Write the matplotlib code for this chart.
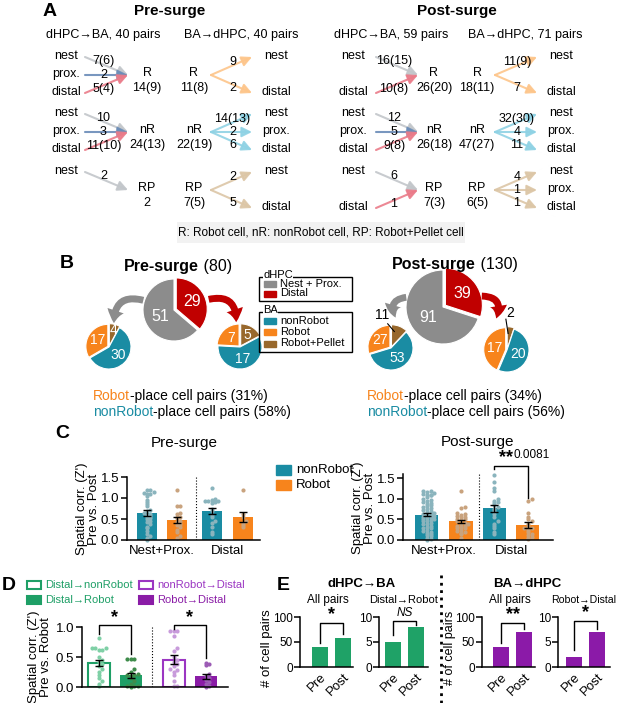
import numpy as np
import matplotlib
matplotlib.use('Agg')
import matplotlib.pyplot as plt
from matplotlib.patches import Rectangle, FancyArrowPatch

plt.rcParams['font.family'] = ['Liberation Sans', 'DejaVu Sans']
plt.rcParams['font.size'] = 9
plt.rcParams['axes.linewidth'] = 1.1

# ======================= DATA =======================
# Panel A : pair counts
pre_in = [(['nest', 'prox.', 'distal'], ['7(6)', '2', '5(4)'], 'R', '14(9)'),
          (['nest', 'prox.', 'distal'], ['10', '3', '11(10)'], 'nR', '24(13)'),
          (['nest'], ['2'], 'RP', '2')]
pre_out = [('R', '11(8)', ['nest', 'distal'], ['9', '2']),
           ('nR', '22(19)', ['nest', 'prox.', 'distal'], ['14(13)', '2', '6']),
           ('RP', '7(5)', ['nest', 'distal'], ['2', '5'])]
post_in = [(['nest', 'distal'], ['16(15)', '10(8)'], 'R', '26(20)'),
           (['nest', 'prox.', 'distal'], ['12', '5', '9(8)'], 'nR', '26(18)'),
           (['nest', 'distal'], ['6', '1'], 'RP', '7(3)')]
post_out = [('R', '18(11)', ['nest', 'distal'], ['11(9)', '7']),
            ('nR', '47(27)', ['nest', 'prox.', 'distal'], ['32(30)', '4', '11']),
            ('RP', '6(5)', ['nest', 'prox.', 'distal'], ['4', '1', '1'])]
pre_pairs = ['dHPC→BA, 40 pairs', 'BA→dHPC, 40 pairs']
post_pairs = ['dHPC→BA, 59 pairs', 'BA→dHPC, 71 pairs']
note_text = 'R: Robot cell, nR: nonRobot cell, RP: Robot+Pellet cell'

# Panel B : pie counts
pre_total, post_total = 80, 130
pre_dhpc = [29, 51]            # Distal, Nest+Prox.
post_dhpc = [39, 91]
pre_np_ba = [4, 30, 17]        # Robot+Pellet, nonRobot, Robot
pre_distal_ba = [5, 17, 7]
post_np_ba = [11, 53, 27]
post_distal_ba = [2, 20, 17]
pre_pct = [31, 58]             # Robot-place, nonRobot-place (%)
post_pct = [34, 56]

# Panel C : spatial correlation (Z') pre vs post
c_groups = ['Nest+Prox.', 'Distal']
pre_nr_np = [1.18, 1.18, 1.15, 1.12, 1.10, 1.10, 1.05, 0.95, 0.90, 0.85, 0.80, 0.72, 0.68, 0.65, 0.62,
             0.60, 0.58, 0.55, 0.52, 0.50, 0.45, 0.42, 0.38, 0.32, 0.28, 0.22, 0.15, 0.10, 0.05, 0.0]
pre_r_np = [1.18, 0.80, 0.80, 0.65, 0.62, 0.55, 0.55, 0.52, 0.45, 0.42, 0.38, 0.35, 0.30, 0.25, 0.20, 0.10, 0.05]
pre_nr_d = [1.25, 0.98, 0.95, 0.92, 0.92, 0.92, 0.90, 0.88, 0.75, 0.70, 0.60, 0.55, 0.45, 0.40, 0.30, 0.20, 0.15]
pre_r_d = [1.20, 0.62, 0.55, 0.45, 0.40, 0.35, 0.30]
post_nr_np = [1.18, 1.18, 1.17, 1.15, 1.12, 1.10, 1.10, 1.08, 1.05, 1.00, 0.98, 0.95, 0.92, 0.90, 0.88,
              0.85, 0.82, 0.80, 0.78, 0.75, 0.72, 0.70, 0.68, 0.65, 0.63, 0.62, 0.60, 0.58, 0.56, 0.55,
              0.53, 0.52, 0.50, 0.48, 0.46, 0.45, 0.42, 0.40, 0.38, 0.35, 0.32, 0.30, 0.28, 0.25, 0.22,
              0.20, 0.18, 0.15, 0.12, 0.10, 0.06, 0.03, 0.0]
post_r_np = [1.18, 0.80, 0.78, 0.65, 0.62, 0.60, 0.58, 0.55, 0.55, 0.52, 0.50, 0.48, 0.45, 0.42,
             0.40, 0.38, 0.35, 0.35, 0.32, 0.30, 0.28, 0.25, 0.22, 0.20, 0.18, 0.15, 0.05]
post_nr_d = [1.58, 1.40, 1.25, 1.20, 1.00, 0.95, 0.92, 0.90, 0.85, 0.80, 0.75, 0.70, 0.62, 0.55,
             0.45, 0.40, 0.35, 0.30, 0.20, 0.15]
post_r_d = [1.00, 0.95, 0.65, 0.55, 0.50, 0.45, 0.40, 0.35, 0.30, 0.28, 0.25, 0.20, 0.15, 0.12, 0.08, 0.05, 0.02]
c_p_value = '0.0081'

# Panel D : spatial correlation (Z') pre vs robot
d_labels = ['Distal→nonRobot', 'Distal→Robot', 'nonRobot→Distal', 'Robot→Distal']
d_dist_nr = [0.82, 0.65, 0.65, 0.65, 0.62, 0.62, 0.50, 0.45, 0.42, 0.38, 0.35, 0.30, 0.25, 0.20, 0.15, 0.10, 0.05, 0.02]
d_dist_r = [0.47, 0.47, 0.47, 0.30, 0.25, 0.22, 0.20, 0.20, 0.18, 0.15, 0.10, 0.05, 0.02, 0.02, 0.02, 0.0]
d_nr_dist = [0.93, 0.93, 0.93, 0.85, 0.65, 0.60, 0.50, 0.45, 0.42, 0.38, 0.35, 0.30, 0.28, 0.25, 0.20, 0.10, 0.02, 0.02]
d_r_dist = [0.40, 0.38, 0.36, 0.22, 0.18, 0.15, 0.12, 0.08, 0.05, 0.02, 0.0]

# Panel E : number of cell pairs
e_cats = ['Pre', 'Post']
e_dhpc_ba_all = [40, 59]
e_distal_robot = [5, 8]
e_ba_dhpc_all = [40, 71]
e_robot_distal = [2, 7]

# ======================= STYLE =======================
TEAL = '#1a8ca3'
ORANGE = '#f7841c'
BROWN = '#98682c'
GRAY = '#8c8c8c'
RED = '#c00000'
GREEN = '#1e9f66'
PURPLE = '#8a1ca6'
TEAL_DOT = '#8ab4bd'
ORANGE_DOT = '#c9a37e'

W, H = 617, 703
fig = plt.figure(figsize=(W / 100, H / 100), dpi=100)


def add_ax(x0, y0, x1, y1):
    return fig.add_axes([x0 / W, 1 - y1 / H, (x1 - x0) / W, (y1 - y0) / H])


ov = add_ax(0, 0, W, H)
ov.set_xlim(0, W)
ov.set_ylim(H, 0)
ov.axis('off')
ov.set_zorder(10)
renderer = fig.canvas.get_renderer()


def txt(x, y, s, fs=9, **kw):
    kw.setdefault('ha', 'center')
    kw.setdefault('va', 'center')
    return ov.text(x, y, s, fontsize=fs, **kw)


def rich(x, y, parts, center=False, fs=10):
    objs, cx = [], x
    for s, kw in parts:
        t = ov.text(cx, y, s, ha='left', va='baseline', fontsize=kw.get('fs', fs),
                    color=kw.get('color', 'black'), fontweight=kw.get('weight', 'normal'))
        cx += t.get_window_extent(renderer).width
        objs.append(t)
    if center:
        tot = cx - x
        for t in objs:
            t.set_x(t.get_position()[0] - tot / 2)


# panel letters
for lab, x, y in [('A', 50, 11), ('B', 67, 263), ('C', 62, 433), ('D', 9, 585), ('E', 283, 585)]:
    txt(x, y, lab, fs=14, fontweight='bold')

# ======================= PANEL A =======================
SRC_ROW = {'nest': 0, 'prox.': 1, 'distal': 2}
SRC_COL = {'nest': '#c2c6ca', 'prox.': '#6a8cb8', 'distal': '#ea7b89'}
OUT_COL = {'R': '#fdc58a', 'nR': '#8fd2e4', 'RP': '#dcc6a6'}
ROW_Y = [56, 113, 171]
FSA = 9


def arrow(p0, p1, col):
    ov.annotate('', xy=p1, xytext=p0,
                arrowprops=dict(arrowstyle='-|>', color=col, lw=1.5, mutation_scale=15,
                                shrinkA=0, shrinkB=0, alpha=0.9))


def half(inputs, outputs, L, title, pairs):
    txt(L['title'], 11, title, fs=11, fontweight='bold')
    txt(L['sub_in'], 35, pairs[0], fs=FSA)
    txt(L['sub_out'], 35, pairs[1], fs=FSA)
    for r, (srcs, cnts, tgt, tot) in enumerate(inputs):
        y0 = ROW_Y[r]
        cy = y0 + 19
        for s, c in zip(srcs, cnts):
            sy = y0 + 18 * SRC_ROW[s]
            txt(L['src'], sy, s, fs=FSA)
            arrow((L['a0'], sy + 1), (L['a1'], cy), SRC_COL[s])
            mx = (L['a0'] + L['a1']) / 2 - 3
            my = (sy + 1 + cy) / 2 + 0.3 * (sy + 1 - cy)
            txt(mx, my, c, fs=FSA, zorder=5)
        txt(L['tgt'], y0 + 17, tgt, fs=FSA)
        txt(L['tgt'], y0 + 32, tot, fs=FSA)
    for r, (src, tot, dsts, cnts) in enumerate(outputs):
        y0 = ROW_Y[r]
        cy = y0 + 19
        txt(L['osrc'], y0 + 17, src, fs=FSA)
        txt(L['osrc'], y0 + 32, tot, fs=FSA)
        for d, c in zip(dsts, cnts):
            dy = y0 + 18 * SRC_ROW[d]
            arrow((L['o0'], cy), (L['o1'], dy + 1), OUT_COL[src])
            txt(L['dst'], dy, d, fs=FSA)
            mx = (L['o0'] + L['o1']) / 2 + 1
            my = (dy + 1 + cy) / 2 + 0.2 * (dy + 1 - cy)
            txt(mx, my, c, fs=FSA, zorder=5)


half(pre_in, pre_out,
     dict(title=170, sub_in=103, sub_out=241, src=66, a0=85, a1=128, tgt=147,
          osrc=194, o0=211, o1=252, dst=276), 'Pre-surge', pre_pairs)
half(post_in, post_out,
     dict(title=457, sub_in=391, sub_out=525, src=353, a0=376, a1=418, tgt=434,
          osrc=477, o0=495, o1=537, dst=561), 'Post-surge', post_pairs)
ov.add_patch(Rectangle((177, 222), 288, 21, fc='#f2f2f2', ec='none'))
txt(321, 232.5, note_text, fs=8.5)

# ======================= PANEL B =======================
BA_COLS = [BROWN, TEAL, ORANGE]


def pie(cx, cy, r, vals, cols, explode, show, fs, lab_r):
    ax = add_ax(cx - 1.3 * r, cy - 1.3 * r, cx + 1.3 * r, cy + 1.3 * r)
    wedges, _ = ax.pie(vals, colors=cols, startangle=90, counterclock=False, explode=explode,
                       wedgeprops=dict(edgecolor='white', linewidth=0.8))
    ax.set_xlim(-1.3, 1.3)
    ax.set_ylim(-1.3, 1.3)
    ax.set_aspect('equal')
    ax.axis('off')
    for wd, v, s, lr in zip(wedges, vals, show, lab_r):
        if not s:
            continue
        a = np.deg2rad((wd.theta1 + wd.theta2) / 2)
        ax.text(wd.center[0] + lr * np.cos(a), wd.center[1] + lr * np.sin(a), str(v),
                ha='center', va='center', color='white', fontsize=fs)
    return ax


pie(174, 310, 31, pre_dhpc, [RED, GRAY], [0.08, 0], [1, 1], 11.5, [0.55, 0.5])
pie(109, 347, 22, pre_np_ba, BA_COLS, [0.06, 0, 0.06], [1, 1, 1], 10, [0.72, 0.55, 0.55])
pie(240, 347, 22, pre_distal_ba, BA_COLS, [0.06, 0, 0.06], [1, 1, 1], 10, [0.6, 0.55, 0.5])
pie(443, 307, 37, post_dhpc, [RED, GRAY], [0.08, 0], [1, 1], 11.5, [0.55, 0.5])
axpl = pie(391, 348, 22, post_np_ba, BA_COLS, [0.06, 0, 0.06], [0, 1, 1], 10, [0.6, 0.55, 0.55])
axpr = pie(507, 350, 22, post_distal_ba, BA_COLS, [0.06, 0, 0.06], [0, 1, 1], 10, [0.6, 0.55, 0.5])
axpl.plot([-0.15, 0.15], [1.1, 0.75], color='black', lw=0.8, clip_on=False)
axpl.text(-0.42, 1.5, str(post_np_ba[0]), ha='center', va='center', fontsize=10, clip_on=False)
axpr.plot([-0.05, 0.05], [1.4, 0.75], color='black', lw=0.8, clip_on=False)
axpr.text(0.15, 1.7, str(post_distal_ba[0]), ha='center', va='center', fontsize=10, clip_on=False)

# curved arrows
for (a, b, col, rad) in [((146, 301), (114, 326), GRAY, 0.7), ((206, 300), (236, 325), RED, -0.7),
                         ((409, 297), (397, 320), GRAY, 0.8), ((479, 296), (495, 321), RED, -0.8)]:
    ov.add_patch(FancyArrowPatch(a, b, connectionstyle=f'arc3,rad={rad}',
                                 arrowstyle='simple,head_length=0.7,head_width=0.95,tail_width=0.38',
                                 mutation_scale=13, color=col, lw=0))

rich(178, 271, [('Pre-surge', dict(weight='bold', fs=11.5)), (f' ({pre_total})', dict(fs=11.5))], center=True)
rich(455, 269, [('Post-surge', dict(weight='bold', fs=11.5)), (f' ({post_total})', dict(fs=11.5))], center=True)

# legend boxes
FSL = 8
ov.add_patch(Rectangle((259, 277), 93, 24, fill=False, ec='black', lw=1))
txt(263, 275, 'dHPC', fs=FSL, ha='left', bbox=dict(fc='white', ec='none', pad=0.2))
for i, (lab, col) in enumerate([('Nest + Prox.', GRAY), ('Distal', RED)]):
    y = 284 + i * 9.5
    ov.add_patch(Rectangle((264, y - 3), 12, 6, color=col))
    txt(280, y, lab, fs=FSL, ha='left')
ov.add_patch(Rectangle((259, 312), 93, 40, fill=False, ec='black', lw=1))
txt(263, 310, 'BA', fs=FSL, ha='left', bbox=dict(fc='white', ec='none', pad=0.2))
for i, (lab, col) in enumerate([('nonRobot', TEAL), ('Robot', ORANGE), ('Robot+Pellet', BROWN)]):
    y = 320.5 + i * 11.5
    ov.add_patch(Rectangle((264, y - 3), 12, 6, color=col))
    txt(280, y, lab, fs=FSL, ha='left')

for x0, pct in [(93, pre_pct), (367, post_pct)]:
    rich(x0, 400, [('Robot', dict(color=ORANGE)), (f'-place cell pairs ({pct[0]}%)', {})])
    rich(x0, 416, [('nonRobot', dict(color=TEAL)), (f'-place cell pairs ({pct[1]}%)', {})])


# ======================= PANEL C / D helpers =======================
def swarm(vals, center, step=0.11, bin_h=0.07, maxw=0.3):
    vals = np.asarray(vals, float)
    xs = np.zeros(len(vals))
    counts = {}
    for i in np.argsort(vals):
        b = int(round(vals[i] / bin_h))
        k = counts.get(b, 0)
        counts[b] = k + 1
        m = ((k + 1) // 2) * (1 if k % 2 == 1 else -1)
        off = m * step
        if abs(off) > maxw:
            off = np.sign(off) * (maxw - (abs(off) - maxw))
        xs[i] = center + off
    return xs


def style_ax(ax, fs=9.5):
    for s in ['top', 'right']:
        ax.spines[s].set_visible(False)
    ax.tick_params(axis='y', labelsize=fs, length=4, width=1.1, pad=1.5)
    ax.tick_params(axis='x', labelsize=fs, length=0)
    ax.patch.set_alpha(0)


def bar_group(ax, positions, groups, face, edge, dots, width, s=9):
    for p, vals, fc, ec, dc in zip(positions, groups, face, edge, dots):
        v = np.asarray(vals, float)
        m = v.mean()
        se = v.std(ddof=1) / np.sqrt(len(v))
        ax.bar(p, m, width, color=fc, edgecolor=ec, linewidth=1.5 if fc == 'white' else 0, zorder=1)
        ax.scatter(swarm(v, p, maxw=width * 0.42), v, s=s, color=dc, lw=0, zorder=2, clip_on=False)
        ax.errorbar(p, m, yerr=se, color='black', capsize=3, lw=1, capthick=1, zorder=3)


# ======================= PANEL C =======================
c_face = [TEAL, ORANGE, TEAL, ORANGE]
c_dots = [TEAL_DOT, ORANGE_DOT, TEAL_DOT, ORANGE_DOT]

axCL = add_ax(127, 477, 260, 540)
posL = [0, 1, 2.19, 3.25]
bar_group(axCL, posL, [pre_nr_np, pre_r_np, pre_nr_d, pre_r_d], c_face, c_face, c_dots, 0.68)
axCL.set_xlim(-0.68, 3.83)
axCL.set_ylim(0, 1.5)
axCL.axvline(1.65, color='black', ls=':', lw=0.8)
axCL.set_yticks([0, 0.5, 1.0, 1.5])
axCL.set_yticklabels(['0.0', '0.5', '1.0', '1.5'])
axCL.set_xticks([0.5, 2.72])
axCL.set_xticklabels(c_groups)
style_ax(axCL)

axCR = add_ax(403, 474, 553, 540)
posR = [0, 1, 1.98, 2.96]
bar_group(axCR, posR, [post_nr_np, post_r_np, post_nr_d, post_r_d], c_face, c_face, c_dots, 0.68)
axCR.set_xlim(-0.7, 3.7)
axCR.set_ylim(0, 1.6)
axCR.axvline(1.53, color='black', ls=':', lw=0.8)
axCR.set_yticks([0, 0.5, 1.0, 1.5])
axCR.set_yticklabels(['0.0', '0.5', '1.0', '1.5'])
axCR.set_xticks([0.5, 2.47])
axCR.set_xticklabels(c_groups)
style_ax(axCR)
axCR.plot([1.98, 1.98, 2.96, 2.96], [1.72, 1.8, 1.8, 1.02], color='black', lw=1, clip_on=False)
axCR.text(2.33, 2.0, '**', ha='center', va='center', fontsize=13, fontweight='bold', clip_on=False)
axCR.text(2.55, 2.06, c_p_value, ha='left', va='center', fontsize=8.5, clip_on=False)

txt(184, 443, 'Pre-surge', fs=11)
txt(478, 442, 'Post-surge', fs=11)
txt(88, 509, "Spatial corr. (Z')\nPre vs. Post", fs=9.5, rotation=90, linespacing=1.05)
txt(364, 508, "Spatial corr. (Z')\nPre vs. Post", fs=9.5, rotation=90, linespacing=1.05)
for i, (lab, col) in enumerate([('nonRobot', TEAL), ('Robot', ORANGE)]):
    y = 470 + 15 * i
    ov.add_patch(Rectangle((276, y - 5), 15, 10, color=col))
    txt(296, y, lab, fs=9.5, ha='left')

# ======================= PANEL D =======================
GREEN_L = '#7fd0a6'
GREEN_D = '#3f8c4b'
PURPLE_E = '#9b36c2'
PURPLE_L = '#c89bdb'
PURPLE_D = '#9c5cb5'
axD = add_ax(82, 627, 228, 687)
posD = [0, 1, 2.35, 3.35]
bar_group(axD, posD, [d_dist_nr, d_dist_r, d_nr_dist, d_r_dist],
          ['white', GREEN, 'white', PURPLE], [GREEN, GREEN, PURPLE_E, PURPLE],
          [GREEN_L, GREEN_D, PURPLE_L, PURPLE_D], 0.69)
axD.set_xlim(-0.52, 4.05)
axD.set_ylim(0, 1.0)
axD.axvline(1.67, color='black', ls=':', lw=0.8)
axD.set_yticks([0, 0.5, 1.0])
axD.set_yticklabels(['0.0', '0.5', '1.0'])
axD.set_xticks([])
style_ax(axD)
axD.plot([0, 0, 1, 1], [0.88, 1.03, 1.03, 0.55], color='black', lw=1, clip_on=False)
axD.plot([2.35, 2.35, 3.35, 3.35], [0.97, 1.03, 1.03, 0.48], color='black', lw=1, clip_on=False)
axD.text(0.5, 1.16, '*', ha='center', va='center', fontsize=13, fontweight='bold', clip_on=False)
axD.text(2.85, 1.16, '*', ha='center', va='center', fontsize=13, fontweight='bold', clip_on=False)
txt(40, 657, "Spatial corr. (Z')\nPre vs. Robot", fs=9.5, rotation=90, linespacing=1.05)

for i, (lab, col, filled, x0) in enumerate([(d_labels[0], GREEN, False, 27), (d_labels[1], GREEN, True, 27),
                                             (d_labels[2], PURPLE_E, False, 139), (d_labels[3], PURPLE, True, 139)]):
    y = 585 if i % 2 == 0 else 600
    ov.add_patch(Rectangle((x0, y - 4), 14, 8, fc=col if filled else 'white', ec=col, lw=1.5))
    txt(x0 + 18, y, lab, fs=8, ha='left', color=col)


# ======================= PANEL E =======================
def e_axis(x0, x1, x_pre, x_post, vals, ymax, ticks, col):
    ax = add_ax(x0, 617, x1, 667)
    unit = x_post - x_pre
    ax.bar([0, 1], vals, 0.66, color=col)
    ax.set_xlim((x0 - x_pre) / unit, (x1 - x_pre) / unit)
    ax.set_ylim(0, ymax)
    ax.set_yticks(ticks)
    ax.set_xticks([0, 1])
    ax.set_xticklabels(e_cats, rotation=45, ha='right', rotation_mode='anchor')
    style_ax(ax, fs=8.5)
    ax.tick_params(axis='x', labelsize=9.5)
    ax.tick_params(axis='y', pad=1)
    ax.tick_params(axis='x', pad=3)
    return ax


EGREEN = '#1fa267'
EPURPLE = '#8b1aa8'
e1 = e_axis(300, 353, 320, 343, e_dhpc_ba_all, 100, [0, 50, 100], EGREEN)
e2 = e_axis(379, 428, 393, 416, e_distal_robot, 10, [0, 5, 10], EGREEN)
e3 = e_axis(482, 535, 501, 524, e_ba_dhpc_all, 100, [0, 50, 100], EPURPLE)
e4 = e_axis(558, 610, 574, 597, e_robot_distal, 10, [0, 5, 10], EPURPLE)


def bracket(ax, yl, y, yr, label, ty, fs=13, style='normal', weight='bold'):
    ax.plot([0, 0, 1, 1], [yl, y, y, yr], color='black', lw=1, clip_on=False)
    ax.text(0.5, ty, label, ha='center', va='center', fontsize=fs, fontstyle=style,
            fontweight=weight, clip_on=False)


bracket(e1, 48, 88, 66, '*', 104)
bracket(e2, 6.5, 9.3, 8.5, 'NS', 10.9, fs=8.5, style='italic', weight='normal')
bracket(e3, 48, 88, 77, '**', 104)
bracket(e4, 3.5, 9.3, 7.6, '*', 10.9)

txt(362, 584, 'dHPC→BA', fs=9.5, fontweight='bold')
txt(527, 584, 'BA→dHPC', fs=9.5, fontweight='bold')
txt(328, 600, 'All pairs', fs=8.5)
txt(404, 600, 'Distal→Robot', fs=8)
txt(510, 600, 'All pairs', fs=8.5)
txt(584, 600, 'Robot→Distal', fs=7.6)
txt(267, 648, '# of cell pairs', fs=9.5, rotation=90)
txt(450, 648, '# of cell pairs', fs=9, rotation=90)
ov.plot([441, 441], [575, 703], ls=':', color='black', lw=2)

fig.savefig('out.png', dpi=100)
